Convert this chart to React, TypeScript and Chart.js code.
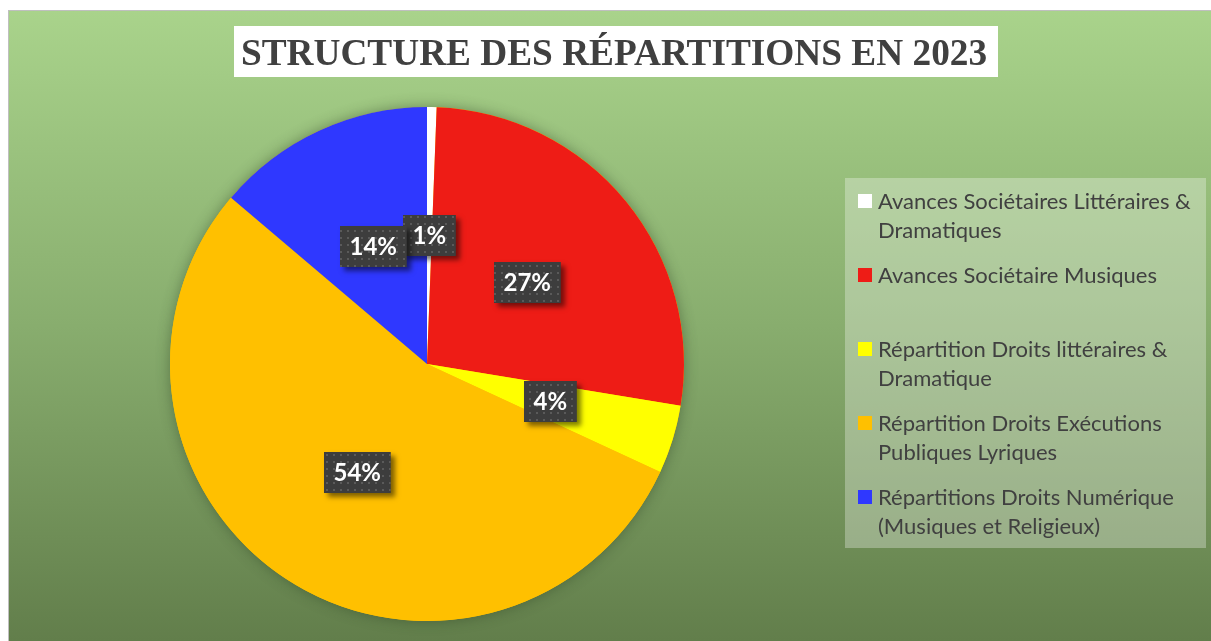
import React, { useEffect, useRef } from 'react';
import { Chart, registerables } from 'chart.js';

Chart.register(...registerables);

const title = 'STRUCTURE DES RÉPARTITIONS EN 2023';
const categories = [
  'Avances Sociétaires Littéraires & Dramatiques',
  'Avances Sociétaire Musiques',
  'Répartition Droits littéraires & Dramatique',
  'Répartition Droits Exécutions Publiques Lyriques',
  'Répartitions Droits Numérique (Musiques et Religieux)',
];
const legendLines = [
  ['Avances Sociétaires Littéraires &', 'Dramatiques'],
  ['Avances Sociétaire Musiques', ''],
  ['Répartition Droits littéraires &', 'Dramatique'],
  ['Répartition Droits Exécutions', 'Publiques Lyriques'],
  ['Répartitions Droits Numérique', '(Musiques et Religieux)'],
];
const values = [0.6, 27.0, 4.3, 54.3, 13.8];
const colors = ['#ffffff', '#ee1c16', '#ffff00', '#ffc000', '#2f38ff'];

const W = 1202;
const H = 630;

function makePattern(ctx: CanvasRenderingContext2D) {
  const c = document.createElement('canvas');
  c.width = 7;
  c.height = 7;
  const p = c.getContext('2d')!;
  p.fillStyle = '#3d3d3d';
  p.fillRect(0, 0, 7, 7);
  p.fillStyle = '#5a5a5a';
  p.fillRect(2, 2, 2, 2);
  return ctx.createPattern(c, 'repeat');
}

const bgPlugin = {
  id: 'bg',
  beforeDraw(chart: any) {
    const ctx = chart.ctx;
    const g = ctx.createLinearGradient(0, 0, 0, chart.height);
    g.addColorStop(0, '#a9d38b');
    g.addColorStop(0.5, '#88ad6e');
    g.addColorStop(1, '#627e4b');
    ctx.save();
    ctx.fillStyle = g;
    ctx.fillRect(0, 0, chart.width, chart.height);
    ctx.restore();
  },
  beforeDatasetsDraw(chart: any) {
    const meta = chart.getDatasetMeta(0);
    const a = meta.data[0];
    if (!a) return;
    const ctx = chart.ctx;
    ctx.save();
    ctx.shadowColor = 'rgba(40,60,30,0.45)';
    ctx.shadowBlur = 14;
    ctx.fillStyle = '#ffc000';
    ctx.beginPath();
    ctx.arc(a.x, a.y, a.outerRadius, 0, Math.PI * 2);
    ctx.fill();
    ctx.restore();
  },
  afterDatasetsDraw(chart: any) {
    const ctx = chart.ctx;
    const meta = chart.getDatasetMeta(0);
    const data = chart.data.datasets[0].data as number[];
    const total = data.reduce((s, v) => s + v, 0);
    const pattern = makePattern(ctx);
    ctx.save();
    ctx.font = 'bold 24px Lato, "Open Sans", sans-serif';
    meta.data.forEach((arc: any, i: number) => {
      const mid = (arc.startAngle + arc.endAngle) / 2;
      const r = arc.outerRadius * 0.502;
      const cx = arc.x + Math.cos(mid) * r;
      const cy = arc.y + Math.sin(mid) * r;
      const txt = Math.round((data[i] / total) * 100) + '%';
      const tw = ctx.measureText(txt).width;
      const bw = tw + 19;
      const bh = 41;
      const bx = Math.round(cx - bw / 2);
      const by = Math.round(cy - bh / 2);
      ctx.save();
      ctx.shadowColor = 'rgba(0,0,0,0.5)';
      ctx.shadowBlur = 5;
      ctx.shadowOffsetX = 4;
      ctx.shadowOffsetY = 4;
      ctx.fillStyle = '#3d3d3d';
      ctx.fillRect(bx, by, bw, bh);
      ctx.restore();
      ctx.fillStyle = pattern || '#3d3d3d';
      ctx.fillRect(bx, by, bw, bh);
      ctx.fillStyle = '#ffffff';
      ctx.textAlign = 'center';
      ctx.textBaseline = 'middle';
      ctx.fillText(txt, bx + bw / 2, by + bh / 2 + 1);
    });
    ctx.restore();
  },
  afterDraw(chart: any) {
    const ctx = chart.ctx;
    ctx.save();
    // title
    ctx.fillStyle = '#ffffff';
    ctx.fillRect(225, 15, 764, 51);
    ctx.fillStyle = '#404040';
    ctx.font = 'bold 37.3px "Liberation Serif", "Times New Roman", serif';
    ctx.textAlign = 'center';
    ctx.textBaseline = 'alphabetic';
    ctx.fillText(title, 605, 54);
    // legend
    ctx.fillStyle = 'rgba(255,255,255,0.3)';
    ctx.fillRect(836, 167, 361, 370);
    ctx.font = '22px Lato, "Open Sans", sans-serif';
    ctx.textAlign = 'left';
    ctx.textBaseline = 'middle';
    legendLines.forEach((lines, i) => {
      const y0 = 190 + i * 74;
      ctx.fillStyle = colors[i];
      ctx.fillRect(849, y0 - 7, 14, 14);
      ctx.fillStyle = '#404040';
      lines.forEach((ln, j) => {
        if (ln) ctx.fillText(ln, 869, y0 + j * 29 + 1);
      });
    });
    ctx.restore();
  },
};

export default function App() {
  const ref = useRef<HTMLCanvasElement>(null);
  useEffect(() => {
    if (!ref.current) return;
    const chart = new Chart(ref.current, {
      type: 'pie',
      data: {
        labels: categories,
        datasets: [
          {
            data: values,
            backgroundColor: colors,
            borderWidth: 0,
          },
        ],
      },
      options: {
        responsive: false,
        animation: false,
        devicePixelRatio: 1,
        layout: { padding: { left: 161, right: 527, top: 96, bottom: 20 } },
        plugins: {
          legend: { display: false },
          tooltip: { enabled: false },
          title: { display: false },
        },
      },
      plugins: [bgPlugin],
    });
    return () => chart.destroy();
  }, []);
  return (
    <div
      style={{
        position: 'fixed',
        left: 8,
        top: 10,
        width: 1203,
        height: 631,
        borderTop: '1px solid #bfbfbf',
        borderLeft: '1px solid #bfbfbf',
        boxSizing: 'border-box',
        overflow: 'hidden',
      }}
    >
      <canvas ref={ref} width={W} height={H} style={{ display: 'block', width: W, height: H }} />
    </div>
  );
}
